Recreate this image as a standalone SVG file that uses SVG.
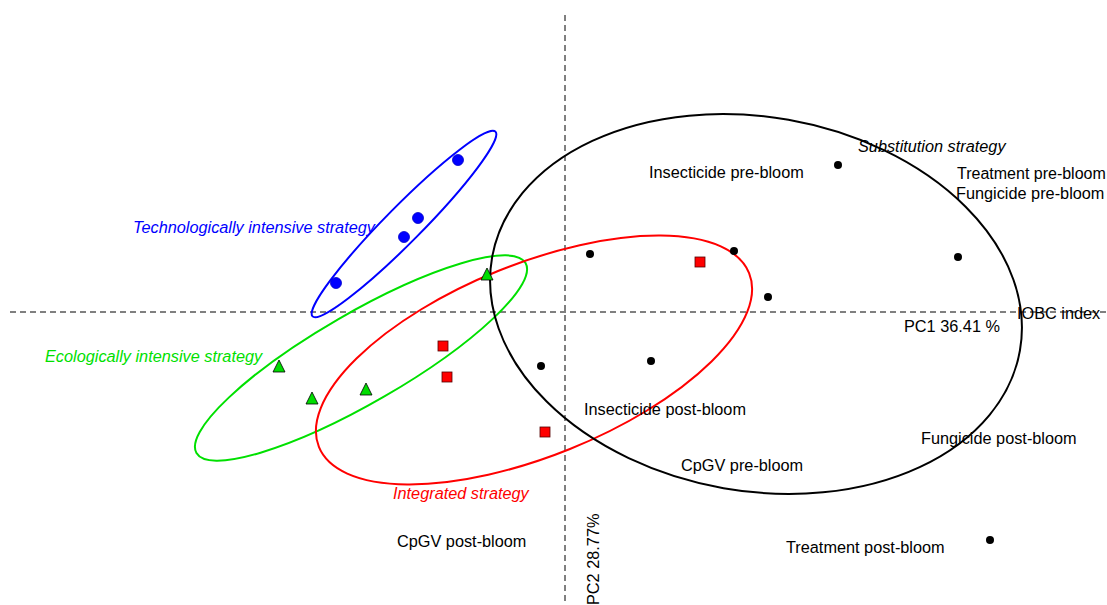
<svg xmlns="http://www.w3.org/2000/svg" width="1107" height="605" viewBox="0 0 1107 605">
<style>
text{font-family:"Liberation Sans",Arial,sans-serif;font-size:16.3px;fill:#000}
.it{font-style:italic}
.ax{stroke:#000;stroke-width:1;stroke-dasharray:6,4;fill:none}
.el{fill:none;stroke-width:2}
.bd{fill:#000}
.blue{fill:#0000ff;stroke:#0000cc;stroke-width:0.8}
.sq{fill:#ff0000;stroke:#550000;stroke-width:0.8}
.tri{fill:#00dd00;stroke:#000;stroke-width:0.8}
</style>
<rect width="1107" height="605" fill="#fff"/>
<g id="axes">
<line class="ax" x1="565" y1="15" x2="565" y2="605"/>
<line class="ax" x1="10" y1="312" x2="1107" y2="312"/>
</g>
<g id="connectors">
<ellipse id="ell-tech" class="el" stroke="#0000ff" cx="404" cy="224" rx="130" ry="18" transform="rotate(-45.3 404 224)"/>
<ellipse id="ell-eco" class="el" stroke="#00e000" cx="361" cy="358" rx="190" ry="45" transform="rotate(-30 361 358)"/>
<ellipse id="ell-int" class="el" stroke="#ff0000" cx="534" cy="360" rx="232" ry="96" transform="rotate(-22 534 360)"/>
<ellipse id="ell-sub" class="el" stroke="#000" cx="756" cy="304" rx="268" ry="187" transform="rotate(10 756 304)"/>
</g>
<g id="tech-points">
<circle class="blue" cx="458" cy="160" r="5.5"/>
<circle class="blue" cx="418" cy="218" r="5.5"/>
<circle class="blue" cx="404" cy="237" r="5.5"/>
<circle class="blue" cx="336" cy="283" r="5.5"/>
</g>
<g id="eco-points">
<polygon class="tri" points="487,268 493,280 481,280"/>
<polygon class="tri" points="279,360 285,372 273,372"/>
<polygon class="tri" points="312,392 318,404 306,404"/>
<polygon class="tri" points="366,383 372,395 360,395"/>
</g>
<g id="int-points">
<rect class="sq" x="695" y="257" width="10" height="10"/>
<rect class="sq" x="438" y="341" width="10" height="10"/>
<rect class="sq" x="442" y="372" width="10" height="10"/>
<rect class="sq" x="540" y="427" width="10" height="10"/>
</g>
<g id="var-points">
<circle class="bd" cx="838" cy="165" r="4"/>
<circle class="bd" cx="958" cy="257" r="4"/>
<circle class="bd" cx="590" cy="254" r="4"/>
<circle class="bd" cx="734" cy="251" r="4"/>
<circle class="bd" cx="768" cy="297" r="4"/>
<circle class="bd" cx="541" cy="366" r="4"/>
<circle class="bd" cx="651" cy="361" r="4"/>
<circle class="bd" cx="990" cy="540" r="4"/>
</g>
<g id="labels">
<text class="it" x="133" y="233" style="fill:#0000ff">Technologically intensive strategy</text>
<text class="it" x="45" y="362" style="fill:#00e000">Ecologically intensive strategy</text>
<text class="it" x="393" y="499" style="fill:#ff0000">Integrated strategy</text>
<text class="it" x="858" y="152">Substitution strategy</text>
<text x="649" y="178">Insecticide pre-bloom</text>
<text x="957" y="179" style="font-size:16px">Treatment pre-bloom</text>
<text x="956" y="199">Fungicide pre-bloom</text>
<text x="1017" y="319">IOBC index</text>
<text x="904" y="332">PC1 36.41 %</text>
<text x="584" y="415">Insecticide post-bloom</text>
<text x="921" y="444">Fungicide post-bloom</text>
<text x="681" y="471">CpGV pre-bloom</text>
<text x="397" y="547">CpGV post-bloom</text>
<text x="786" y="553">Treatment post-bloom</text>
<text x="599" y="605" transform="rotate(-90 599 605)">PC2 28.77%</text>
</g>
</svg>
